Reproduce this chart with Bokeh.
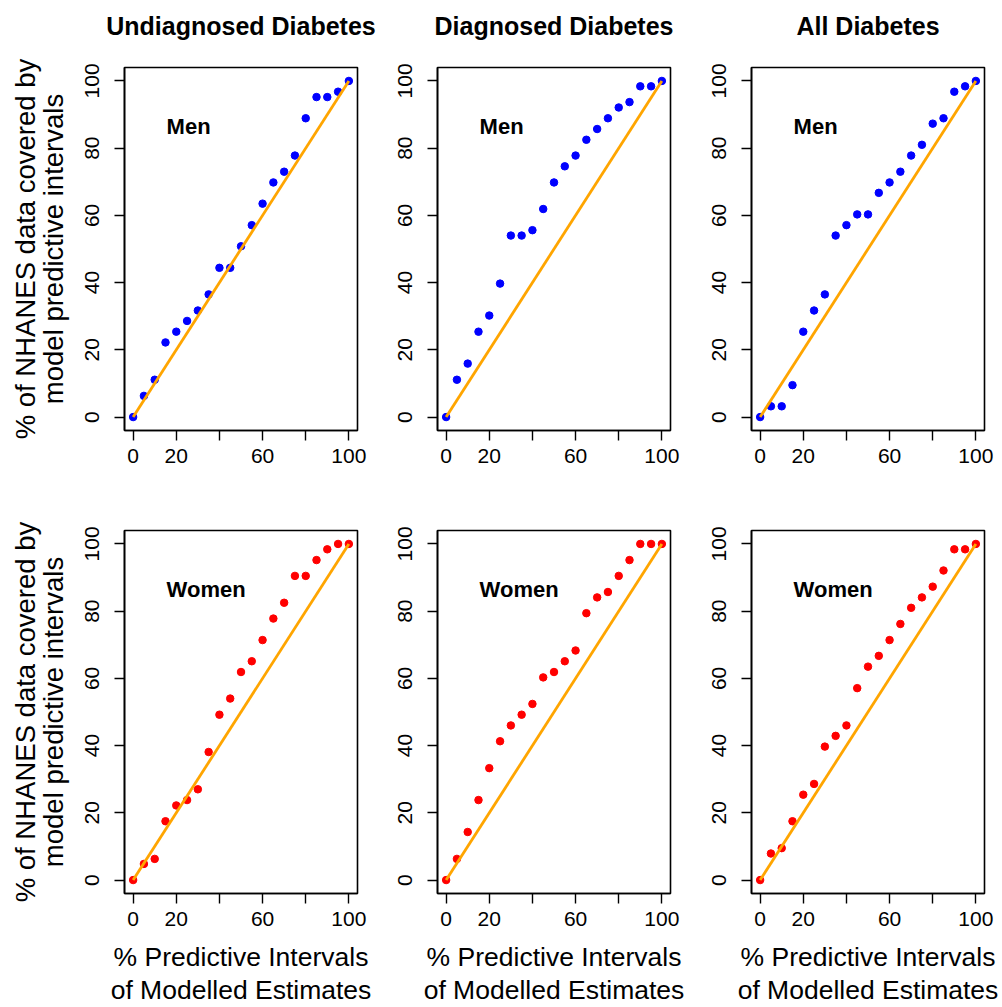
from bokeh.plotting import figure
from bokeh.layouts import row, column
from bokeh.models import Range1d, FixedTicker, Label
from bokeh.core.properties import value
from bokeh.embed import file_html
from bokeh.resources import INLINE

# ---------------- data ----------------
pct = [0, 5, 10, 15, 20, 25, 30, 35, 40, 45, 50, 55, 60, 65, 70, 75, 80, 85, 90, 95, 100]

undiag_men = [0, 6.3, 11.1, 22.2, 25.4, 28.6, 31.7, 36.5, 44.4, 44.4, 50.8,
              57.1, 63.5, 69.8, 73.0, 77.8, 88.9, 95.2, 95.2, 96.8, 100]
diag_men = [0, 11.1, 15.9, 25.4, 30.2, 39.7, 54.0, 54.0, 55.6, 61.9, 69.8,
            74.6, 77.8, 82.5, 85.7, 88.9, 92.1, 93.7, 98.4, 98.4, 100]
all_men = [0, 3.2, 3.2, 9.5, 25.4, 31.7, 36.5, 54.0, 57.1, 60.3, 60.3,
           66.7, 69.8, 73.0, 77.8, 81.0, 87.3, 88.9, 96.8, 98.4, 100]
undiag_women = [0, 4.8, 6.3, 17.5, 22.2, 23.8, 27.0, 38.1, 49.2, 54.0, 61.9,
                65.1, 71.4, 77.8, 82.5, 90.5, 90.5, 95.2, 98.4, 100, 100]
diag_women = [0, 6.3, 14.3, 23.8, 33.3, 41.3, 46.0, 49.2, 52.4, 60.3, 61.9,
              65.1, 68.3, 79.4, 84.1, 85.7, 90.5, 95.2, 100, 100, 100]
all_women = [0, 7.9, 9.5, 17.5, 25.4, 28.6, 39.7, 42.9, 46.0, 57.1, 63.5,
             66.7, 71.4, 76.2, 81.0, 84.1, 87.3, 92.1, 98.4, 98.4, 100]

col_titles = ["Undiagnosed Diabetes", "Diagnosed Diabetes", "All Diabetes"]
row_labels = ["Men", "Women"]
row_colors = ["#0000FF", "#FF0000"]
series = [[undiag_men, diag_men, all_men],
          [undiag_women, diag_women, all_women]]
axis_ticks = [0, 20, 40, 60, 80, 100]
x_tick_text = {0: "0", 20: "20", 40: "", 60: "60", 80: "", 100: "100"}
identity_line = [0, 100]
y_title = "% of NHANES data covered by\nmodel predictive intervals"
x_title = "% Predictive Intervals\nof Modelled Estimates"

# ---------------- layout ----------------
FONT = "Liberation Sans"
FRAME_W, FRAME_H = 233, 363
STRIP_H = 45
col_borders = [(124, 21), (59, 20), (61, 18)]
row_borders = [(67 - STRIP_H, 47), (53, 114)]

rows = []

# strip of column titles
strip = []
for c in range(3):
    bl, br = col_borders[c]
    w = bl + FRAME_W + br
    s = figure(width=w, height=STRIP_H, output_backend="svg", toolbar_location=None,
               x_range=Range1d(0, w), y_range=Range1d(STRIP_H, 0),
               x_axis_type=None, y_axis_type=None, min_border=0)
    s.outline_line_color = None
    s.xgrid.visible = False
    s.ygrid.visible = False
    s.text(x=[bl + FRAME_W / 2], y=[25], text=[col_titles[c]],
           text_align="center", text_baseline="alphabetic",
           text_font=value(FONT), text_font_size=value("25px"),
           text_font_style="bold", text_color="black")
    strip.append(s)
rows.append(row(*strip, spacing=0))

for r in range(2):
    panels = []
    for c in range(3):
        bl, br = col_borders[c]
        bt, bb = row_borders[r]
        p = figure(width=bl + FRAME_W + br, height=bt + FRAME_H + bb,
                   output_backend="svg", toolbar_location=None,
                   x_range=Range1d(-4, 104), y_range=Range1d(-4, 104),
                   min_border_left=bl, min_border_right=br,
                   min_border_top=bt, min_border_bottom=bb)
        p.background_fill_color = "white"
        p.border_fill_color = "white"
        p.outline_line_color = "black"
        p.outline_line_width = 1.6
        p.xgrid.visible = False
        p.ygrid.visible = False

        for ax in (p.xaxis[0], p.yaxis[0]):
            ax.ticker = FixedTicker(ticks=axis_ticks)
            ax.minor_tick_line_color = None
            ax.major_tick_in = 0
            ax.major_tick_out = 10
            ax.major_tick_line_width = 1.4
            ax.major_tick_line_color = "black"
            ax.axis_line_color = "black"
            ax.axis_line_width = 1.6
            ax.major_label_text_font = FONT
            ax.major_label_text_font_size = "21px"
            ax.major_label_text_color = "black"
            ax.axis_label_text_font = FONT
            ax.axis_label_text_font_style = "normal"
            ax.axis_label_text_color = "black"
        p.xaxis[0].major_label_overrides = x_tick_text
        p.xaxis[0].major_label_standoff = 8
        p.yaxis[0].major_label_orientation = "vertical"
        p.yaxis[0].major_label_standoff = 15

        if c == 0:
            p.yaxis[0].axis_label = y_title
            p.yaxis[0].axis_label_text_font_size = "27.5px"
            p.yaxis[0].axis_label_text_line_height = 0.9
            p.yaxis[0].axis_label_standoff = 14
        if r == 1:
            p.xaxis[0].axis_label = x_title
            p.xaxis[0].axis_label_text_font_size = "26.5px"
            p.xaxis[0].axis_label_text_line_height = 1.1
            p.xaxis[0].axis_label_standoff = 13

        p.scatter(pct, series[r][c], size=7.5, color=row_colors[r])
        p.line(identity_line, identity_line, line_color="#FFA500", line_width=2.8)
        p.add_layout(Label(x=15.5, y=86.5, text=row_labels[r], text_align="left",
                           text_baseline="alphabetic", text_font=FONT,
                           text_font_size="22px", text_font_style="bold",
                           text_color="black"))
        panels.append(p)
    rows.append(row(*panels, spacing=0))

layout = column(*rows, spacing=0)

with open("out.html", "w") as f:
    f.write(file_html(layout, INLINE))
